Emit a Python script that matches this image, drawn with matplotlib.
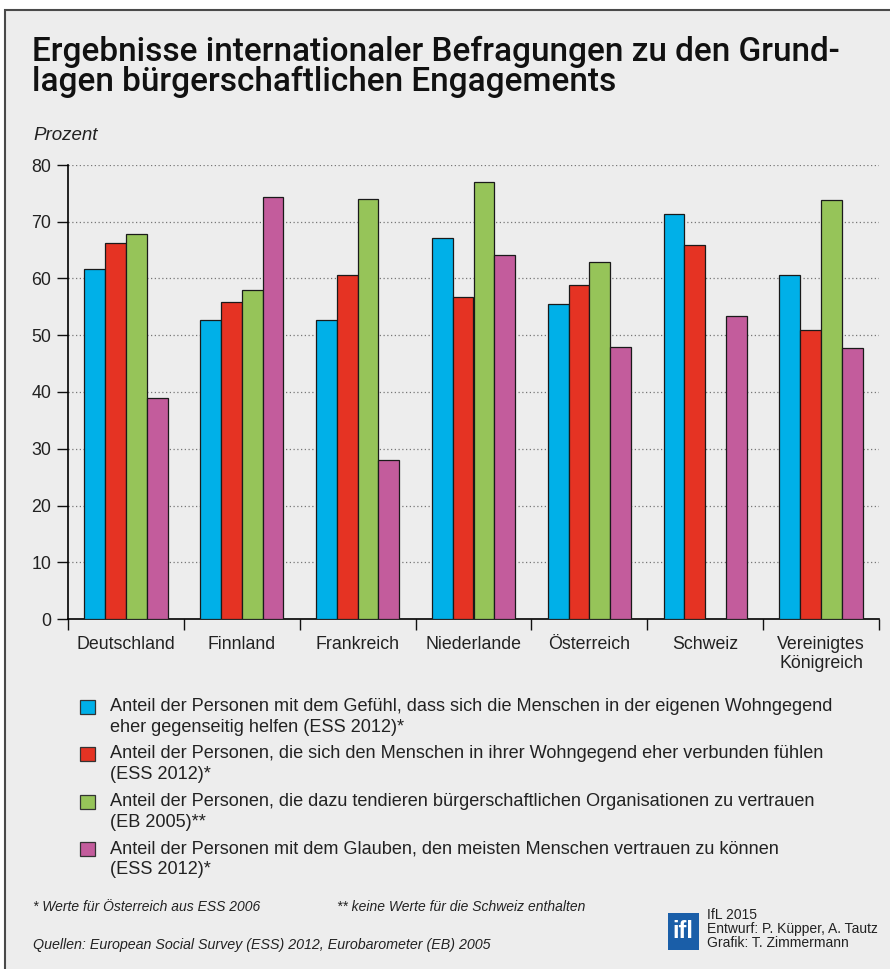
import matplotlib
matplotlib.use("Agg")
import matplotlib.pyplot as plt
from matplotlib.patches import Rectangle
import numpy as np

countries = ["Deutschland", "Finnland", "Frankreich", "Niederlande",
             "Österreich", "Schweiz", "Vereinigtes\nKönigreich"]
helfen = [61.7, 52.7, 52.7, 67.1, 55.5, 71.3, 60.7]
verbunden = [66.3, 55.9, 60.6, 56.7, 58.8, 65.9, 51.0]
organisationen = [67.9, 57.9, 74.0, 77.0, 62.9, np.nan, 73.9]
vertrauen = [38.9, 74.4, 28.0, 64.2, 48.0, 53.4, 47.7]
yticks = [0, 10, 20, 30, 40, 50, 60, 70, 80]

series = [helfen, verbunden, organisationen, vertrauen]
colors = ["#00b0e8", "#e53323", "#96c459", "#c35c9c"]
labels = [
    ["Anteil der Personen mit dem Gefühl, dass sich die Menschen in der eigenen Wohngegend",
     "eher gegenseitig helfen (ESS 2012)*"],
    ["Anteil der Personen, die sich den Menschen in ihrer Wohngegend eher verbunden fühlen",
     "(ESS 2012)*"],
    ["Anteil der Personen, die dazu tendieren bürgerschaftlichen Organisationen zu vertrauen",
     "(EB 2005)**"],
    ["Anteil der Personen mit dem Glauben, den meisten Menschen vertrauen zu können",
     "(ESS 2012)*"],
]

plt.rcParams['font.family'] = ['Liberation Sans', 'DejaVu Sans']

W, H = 890, 969
fig = plt.figure(figsize=(W / 100, H / 100), dpi=100)
fig.patch.set_facecolor("white")

def fx(px):
    return px / W

def fy(py):
    return 1 - py / H

# frame
fig.patches.append(Rectangle((fx(5), -0.01), 1.2, fy(10) + 0.01, transform=fig.transFigure,
                             facecolor="#ededed", edgecolor="#4a4a4a", linewidth=1.5, zorder=-10))

title_fam = ["Roboto", "Liberation Sans", "DejaVu Sans"]
fig.text(fx(32), fy(61), "Ergebnisse internationaler Befragungen zu den Grund-",
         fontsize=24, fontweight="medium", color="#111111", va="baseline", ha="left",
         family=title_fam)
fig.text(fx(32), fy(91), "lagen bürgerschaftlichen Engagements",
         fontsize=24, fontweight="medium", color="#111111", va="baseline", ha="left",
         family=title_fam)
fig.text(fx(33), fy(140), "Prozent", fontsize=13.5, style="italic", color="#222222", va="baseline")

ax = fig.add_axes([fx(68), fy(619), fx(879) - fx(68), (619 - 165) / H])
ax.set_facecolor("none")
x = np.arange(len(countries))
bw = 0.18
for i, (vals, c) in enumerate(zip(series, colors)):
    ax.bar(x + (i - 1.5) * bw, vals, width=bw, color=c, edgecolor="#1a1a1a",
           linewidth=0.9, zorder=3)

ax.set_xlim(-0.5, len(countries) - 0.5)
ax.set_ylim(0, 80)
ax.set_yticks(yticks)
ax.set_yticklabels([str(v) for v in yticks], fontsize=12.8, color="#222222")
for v in yticks[1:]:
    ax.axhline(v, color="#777777", linestyle=(0, (1, 2)), linewidth=0.9, zorder=1)
ax.set_xticks(np.arange(-0.5, len(countries), 1.0))
ax.set_xticklabels([])
ax.set_xticks(x, minor=True)
ax.set_xticklabels(countries, minor=True, fontsize=12.8, color="#222222", linespacing=1.15)
ax.tick_params(axis="x", which="minor", length=0, pad=12)
ax.tick_params(axis="x", which="major", length=8, width=1, color="#111111")
ax.tick_params(axis="y", length=8, width=1, color="#111111", pad=4)
for s in ["top", "right"]:
    ax.spines[s].set_visible(False)
ax.spines["left"].set_linewidth(1.2)
ax.spines["bottom"].set_linewidth(1.2)

# legend
baselines = [711, 758, 806, 853]
for lab, c, yb in zip(labels, colors, baselines):
    fig.patches.append(Rectangle((fx(80), fy(yb + 3)), fx(15), 14 / H, transform=fig.transFigure,
                                 facecolor=c, edgecolor="#333333", linewidth=0.9))
    fig.text(fx(110), fy(yb), lab[0], fontsize=13.1, color="#222222", va="baseline", ha="left")
    fig.text(fx(110), fy(yb + 21), lab[1], fontsize=13.1, color="#222222", va="baseline", ha="left")

fig.text(fx(33), fy(911), "* Werte für Österreich aus ESS 2006", fontsize=10, style="italic", color="#222222")
fig.text(fx(337), fy(911), "** keine Werte für die Schweiz enthalten", fontsize=10, style="italic", color="#222222")
fig.text(fx(33), fy(949), "Quellen: European Social Survey (ESS) 2012, Eurobarometer (EB) 2005", fontsize=10.3,
         style="italic", color="#222222")

# logo
fig.patches.append(Rectangle((fx(668), fy(950)), fx(31), 37 / H, transform=fig.transFigure,
                             facecolor="#1a5ea8", edgecolor="none"))
fig.text(fx(683), fy(932), "ifl", fontsize=17, fontweight="bold", color="white", ha="center", va="center")
for t, yb in zip(["IfL 2015", "Entwurf: P. Küpper, A. Tautz", "Grafik: T. Zimmermann"], [919, 933, 947]):
    fig.text(fx(707), fy(yb), t, fontsize=10, color="#222222", va="baseline", ha="left")

fig.savefig("out.png", dpi=100, facecolor=fig.get_facecolor())
